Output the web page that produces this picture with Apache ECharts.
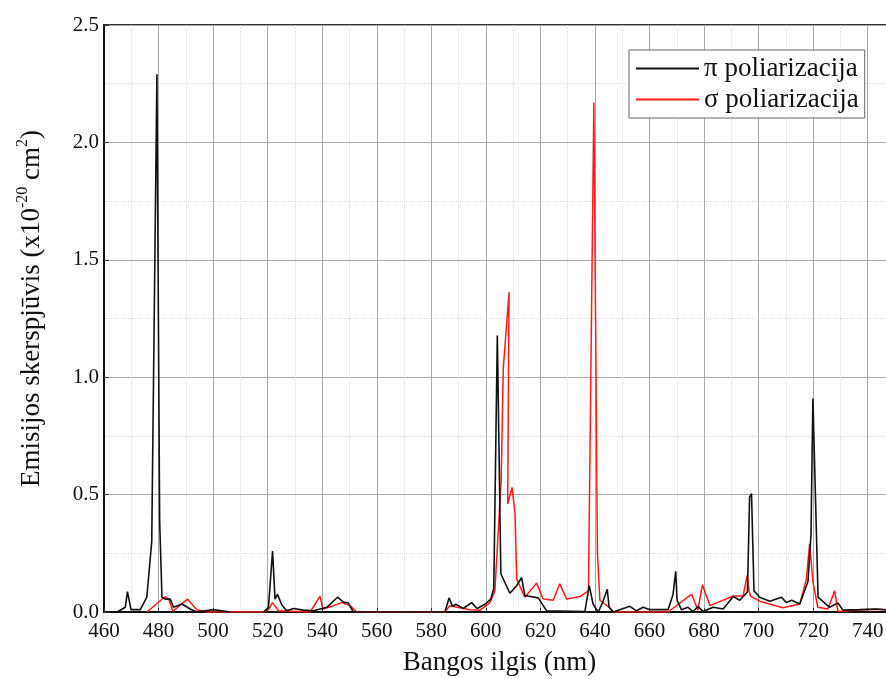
<!DOCTYPE html>
<html>
<head>
<meta charset="utf-8">
<script src="https://cdn.jsdelivr.net/npm/echarts@6/dist/echarts.min.js"></script>
<style>
html,body{margin:0;padding:0;background:#fff;overflow:hidden;width:886px;height:679px;}
#chart{width:895px;height:679px;}
</style>
</head>
<body>
<div id="chart"></div>
<script>
// π polarisation (black)
var piX = [464.8,467.8,468.6,469.9,473.3,475.7,477.5,479.4,480.4,481.25,482.5,484.3,485.5,488.6,491.6,494,500.1,506.3,508,
  518.5,520.3,521.8,522.7,523.6,525.2,527,529.5,533.1,536.8,541.7,545.6,547.8,549.6,551.4,585,586.5,587.8,589,591.7,594.8,
  596.8,599.7,601.8,602.9,604.2,605.5,608.8,611.3,613.1,614.3,619.2,622.3,636.3,637.9,639.3,641.2,642.8,644.5,645.2,646.7,
  652.8,655.2,657.7,660.1,666.8,668.6,669.6,670.1,671.7,674.1,676,677.8,679.6,683.3,687,690.7,693.1,695.9,696.7,697.4,
  698.3,700.4,704.1,708.4,710.2,712.1,715.1,718.1,719.2,719.9,721.8,726,729.1,730.9,737,743.1,750];
var piY = [0,0.02,0.087,0.01,0.01,0.063,0.3,2.29,0.39,0.063,0.055,0.055,0.02,0.034,0.013,0,0.01,0,null,
  0,0.02,0.26,0.055,0.075,0.03,0.005,0.015,0.008,0.005,0.02,0.063,0.042,0.038,0,0,0.06,0.024,0.033,0.015,0.04,
  0.015,0.033,0.055,0.1,1.178,0.163,0.08,0.112,0.146,0.07,0.06,0.005,0.002,0.112,0.034,0,0.04,0.097,0.02,0,
  0.024,0.005,0.02,0.01,0.01,0.073,0.173,0.05,0.01,0.02,0.002,0.024,0.002,0.02,0.013,0.066,0.05,0.085,0.49,0.504,
  0.09,0.063,0.046,0.063,0.04,0.05,0.034,0.13,0.33,0.909,0.063,0.02,0.038,0.008,0.01,0.013,0.005];

// σ polarisation (red)
var sigmaX = [475.7,482.5,483.7,485.3,490.6,494,497.7,518.5,520.3,521.8,524,535.6,539.2,540.2,544.1,547.2,550.2,552.7,
  585,586.8,589.5,594.2,597.8,601.5,603.3,605.6,606.4,608.5,608.0,609.6,610.7,611.3,614.3,618.6,621,624.7,627.1,629.6,
  634.5,637.6,639.6,640.9,641.8,645.4,646.7,666.8,675.5,677.7,679.4,682.2,690.7,694.3,695.8,696.5,697,700.4,708.9,
  715.1,717.5,718.7,719.9,721.7,725.4,727.9,729.1,737,745,750];
var sigmaY = [0,0.066,0.055,0.003,0.055,0.01,0,0,0.01,0.04,0.005,0,0.068,0.013,0.027,0.04,0.027,0,
  0,0.027,0.02,0.01,0.007,0.04,0.09,0.56,1.04,1.362,0.46,0.53,0.42,0.14,0.063,0.123,0.055,0.05,0.12,0.055,
  0.066,0.09,2.17,0.25,0.05,0.018,0,0,0.076,0.007,0.115,0.027,0.068,0.068,0.156,0.09,0.068,0.046,0.018,
  0.034,0.14,0.29,0.13,0.02,0.013,0.09,0.002,0.008,0.012,0.005];

var seriesNames = ['π poliarizacija', 'σ poliarizacija'];
var xTitle = 'Bangos ilgis (nm)';
var yTitle = 'Emisijos skerspjūvis (x10{sup|-20} cm{sup|2})';

function zip(xs, ys) {
  return xs.map(function (x, i) { return [x, ys[i]]; });
}

var FONT = "'Liberation Serif', 'Times New Roman', serif";
var chart = echarts.init(document.getElementById('chart'), null, {renderer: 'canvas'});
chart.setOption({
  animation: false,
  backgroundColor: '#fff',
  grid: {left: 104, top: 25, right: 0, bottom: 67, outerBoundsMode: 'none', containLabel: false,
    show: true, borderColor: '#333', borderWidth: 2, backgroundColor: 'transparent'},
  legend: {
    data: seriesNames,
    left: 629, top: 50,
    orient: 'vertical',
    icon: 'rect',
    itemWidth: 63, itemHeight: 2,
    itemGap: 4,
    itemTextGap: 4,
    padding: [5, 6, 5, 7],
    backgroundColor: '#fff',
    borderColor: '#666',
    borderWidth: 1,
    textStyle: {fontFamily: FONT, fontSize: 27, color: '#111'}
  },
  xAxis: {
    type: 'value', min: 460, max: 750, interval: 20,
    name: xTitle, nameLocation: 'middle', nameGap: 37,
    nameTextStyle: {fontFamily: FONT, fontSize: 27, color: '#111'},
    axisLine: {show: true, lineStyle: {color: '#111', width: 2}},
    axisTick: {show: true, inside: true, length: 4, lineStyle: {color: '#333'}},
    axisLabel: {fontFamily: FONT, fontSize: 21, color: '#111', margin: 9, showMaxLabel: false},
    splitLine: {show: true, lineStyle: {color: '#aaaaaa', width: 1}},
    minorTick: {show: false, splitNumber: 2},
    minorSplitLine: {show: true, lineStyle: {color: '#dcdcdc', width: 1, type: 'dotted'}}
  },
  yAxis: {
    type: 'value', min: 0, max: 2.5, interval: 0.5,
    name: yTitle, nameLocation: 'middle', nameGap: 55,
    nameTextStyle: {
      fontFamily: FONT, fontSize: 27, color: '#111', lineHeight: 34, padding: [0, 0, 0, 20],
      rich: {sup: {fontFamily: FONT, fontSize: 16, color: '#111', verticalAlign: 'top', lineHeight: 34}}
    },
    axisLine: {show: true, lineStyle: {color: '#111', width: 2}},
    axisTick: {show: true, inside: true, length: 5, lineStyle: {color: '#333'}},
    axisLabel: {fontFamily: FONT, fontSize: 21, color: '#111', margin: 5,
      formatter: function (v) { return v.toFixed(1); }},
    splitLine: {show: true, lineStyle: {color: '#aaaaaa', width: 1}},
    minorTick: {show: false, splitNumber: 2},
    minorSplitLine: {show: true, lineStyle: {color: '#dcdcdc', width: 1, type: 'dotted'}}
  },
  series: [
    {
      name: seriesNames[1], type: 'line', symbol: 'none', z: 2,
      data: zip(sigmaX, sigmaY),
      lineStyle: {color: '#ff1a1a', width: 1.5}, itemStyle: {color: '#ff1a1a'}
    },
    {
      name: seriesNames[0], type: 'line', symbol: 'none', z: 3,
      data: zip(piX, piY), connectNulls: false,
      lineStyle: {color: '#111', width: 1.6}, itemStyle: {color: '#111'}
    }
  ]
});
</script>
</body>
</html>
